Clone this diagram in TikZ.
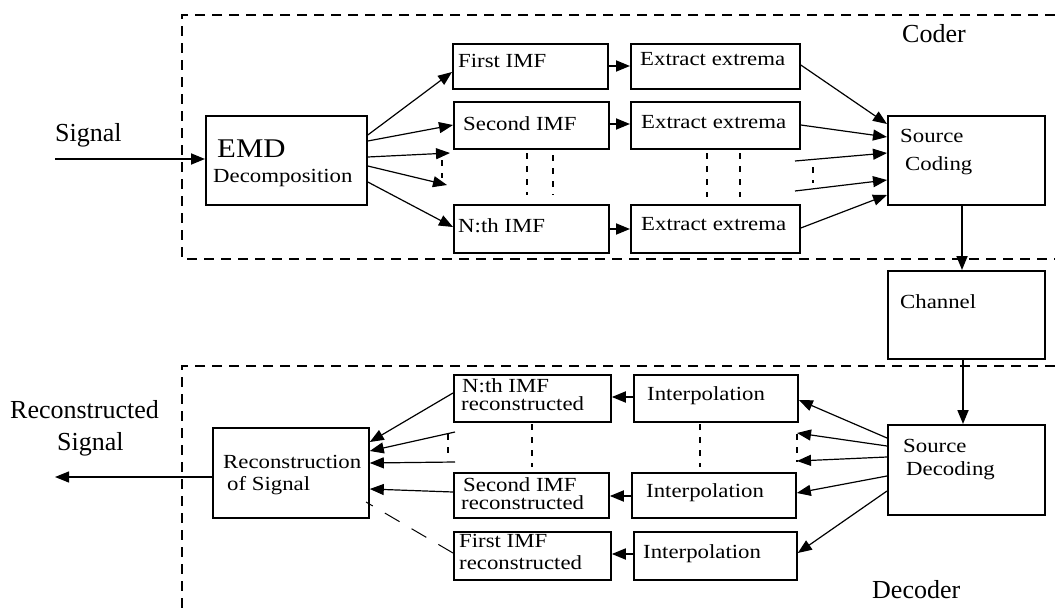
\documentclass[tikz,border=0pt]{standalone}
\usepackage{fontspec}
\setmainfont{Liberation Serif}
\newfontfamily\boxfont[FakeStretch=1.14]{Liberation Serif}
\usetikzlibrary{arrows.meta}

\begin{document}
\begin{tikzpicture}[x=1pt,y=-1pt,
  blk/.style={draw, line width=1.8pt, inner sep=0pt, anchor=north west},
  txt/.style={inner sep=0pt, anchor=base west, font=\boxfont\fontsize{20}{20}\selectfont},
  bigtxt/.style={inner sep=0pt, anchor=base west, font=\boxfont\fontsize{27}{27}\selectfont},
  lbl/.style={inner sep=0pt, anchor=base west, font=\fontsize{26}{26}\selectfont},
  arr/.style={line width=1.2pt, -{Triangle[length=14pt,width=11pt]}},
  harr/.style={line width=1.8pt, -{Triangle[length=14pt,width=11pt]}},
  frame/.style={line width=1.8pt, dash pattern=on 10pt off 7pt},
  gap/.style={line width=1.5pt, dash pattern=on 6pt off 7pt},
  loose/.style={line width=1pt, dash pattern=on 17pt off 14pt},
]
\useasboundingbox (0,0) rectangle (1055,613);

% ---------------- coder ----------------
\draw[frame] (1055,15) -- (182,15) -- (182,259) -- (1055,259);
\node[lbl] (coder) at (902,42) {Coder};

\node[blk, minimum width=161pt, minimum height=89pt] (emd) at (205,115) {};
\node[bigtxt] (emdA) at (217,157) {EMD};
\node[txt] (emdB) at (213,182) {Decomposition};

\node[blk, minimum width=155pt, minimum height=45pt] (imf1) at (452,43) {};
\node[blk, minimum width=155pt, minimum height=47pt] (imf2) at (453,101) {};
\node[blk, minimum width=155pt, minimum height=48pt] (imfn) at (453,204) {};
\node[txt] (imf1t) at (458,67) {First IMF};
\node[txt] (imf2t) at (463,130) {Second IMF};
\node[txt] (imfnt) at (458,232) {N:th IMF};

\node[blk, minimum width=169pt, minimum height=45pt] (ext1) at (630,43) {};
\node[blk, minimum width=169pt, minimum height=47pt] (ext2) at (630,101) {};
\node[blk, minimum width=169pt, minimum height=48pt] (extn) at (630,204) {};
\node[txt] (ext1t) at (640,65) {Extract extrema};
\node[txt] (ext2t) at (641,128) {Extract extrema};
\node[txt] (extnt) at (641,230) {Extract extrema};

\node[blk, minimum width=157pt, minimum height=89pt] (scod) at (887,115) {};
\node[txt] (scodA) at (900,142) {Source};
\node[txt] (scodB) at (905,170) {Coding};

% input signal
\node[lbl] (sigl) at (55,141) {Signal};
\coordinate (sigin) at (55,159);
\draw[harr] (sigin) -- (emd.west |- 0,159);

% EMD outputs
\coordinate (e3) at (450,153);
\coordinate (e4) at (447,185);
\draw[arr] (emd.east |- 0,135) -- (imf1.west |- 0,72);
\draw[arr] (emd.east |- 0,141) -- (imf2.west |- 0,125);
\draw[arr] (emd.east |- 0,157) -- (e3);
\draw[arr] (emd.east |- 0,166) -- (e4);
\draw[arr] (emd.east |- 0,182) -- (imfn.west |- 0,227);
\draw[gap] (442,160) -- (442,178);

% IMF -> extrema
\draw[harr] (imf1.east |- 0,66) -- (ext1.west |- 0,66);
\draw[harr] (imf2.east |- 0,124) -- (ext2.west |- 0,124);
\draw[harr] (imfn.east |- 0,229) -- (extn.west |- 0,229);

% extrema -> source coding
\coordinate (s3) at (795,161);
\coordinate (s4) at (795,191);
\draw[arr] (ext1.east |- 0,65) -- (scod.west |- 0,124);
\draw[arr] (ext2.east |- 0,125) -- (scod.west |- 0,137);
\draw[arr] (s3) -- (scod.west |- 0,153);
\draw[arr] (s4) -- (scod.west |- 0,180);
\draw[arr] (extn.east |- 0,228) -- (scod.west |- 0,195);

% ellipsis marks between rows
\draw[gap] (527,153) -- (527,195);
\draw[gap] (553,155) -- (553,195);
\draw[gap] (707,153) -- (707,197);
\draw[gap] (740,153) -- (740,197);
\draw[gap] (813,167) -- (813,183);

% ---------------- channel ----------------
\node[blk, minimum width=157pt, minimum height=88pt] (chan) at (887,270) {};
\node[txt] (chant) at (900,308) {Channel};
\draw[harr] (scod.south -| 962,0) -- (chan.north -| 962,0);

% ---------------- decoder ----------------
\draw[frame] (1055,366) -- (182,366) -- (182,613);
\node[lbl] (decoder) at (872,598) {Decoder};

\node[blk, minimum width=157pt, minimum height=90pt] (sdec) at (887,424) {};
\node[txt] (sdecA) at (903,452) {Source};
\node[txt] (sdecB) at (906,475) {Decoding};
\draw[harr] (chan.south -| 963,0) -- (sdec.north -| 963,0);

\node[blk, minimum width=164pt, minimum height=47pt] (intn) at (633,374) {};
\node[blk, minimum width=164pt, minimum height=45pt] (int2) at (631,472) {};
\node[blk, minimum width=163pt, minimum height=48pt] (int1) at (633,531) {};
\node[txt] (intnt) at (647,400) {Interpolation};
\node[txt] (int2t) at (646,497) {Interpolation};
\node[txt] (int1t) at (643,558) {Interpolation};

\node[blk, minimum width=157pt, minimum height=47pt] (recn) at (453,374) {};
\node[blk, minimum width=155pt, minimum height=45pt] (rec2) at (453,472) {};
\node[blk, minimum width=157pt, minimum height=48pt] (rec1) at (453,531) {};
\node[txt] (recnA) at (462,392) {N:th IMF};
\node[txt] (recnB) at (461,410) {reconstructed};
\node[txt] (rec2A) at (463,491) {Second IMF};
\node[txt] (rec2B) at (461,509) {reconstructed};
\node[txt] (rec1A) at (459,547) {First IMF};
\node[txt] (rec1B) at (459,569) {reconstructed};

\node[blk, minimum width=156pt, minimum height=90pt] (recsig) at (212,427) {};
\node[txt] (recsigA) at (223,468) {Reconstruction};
\node[txt] (recsigB) at (227,490) {of Signal};

% source decoding -> interpolation
\coordinate (d2) at (797,433);
\coordinate (d3) at (797,461);
\draw[arr] (sdec.west |- 0,438) -- (intn.east |- 0,400);
\draw[arr] (sdec.west |- 0,446) -- (d2);
\draw[arr] (sdec.west |- 0,457) -- (d3);
\draw[arr] (sdec.west |- 0,476) -- (int2.east |- 0,493);
\draw[arr] (sdec.west |- 0,491) -- (int1.east |- 0,553);
\draw[gap] (797,434) -- (797,462);

% interpolation -> reconstructed IMFs
\draw[harr] (intn.west |- 0,397) -- (recn.east |- 0,397);
\draw[harr] (int2.west |- 0,496) -- (rec2.east |- 0,496);
\draw[harr] (int1.west |- 0,554) -- (rec1.east |- 0,554);

% reconstructed IMFs -> reconstruction
\coordinate (r2) at (455,432);
\coordinate (r3) at (455,462);
\draw[arr] (recn.west |- 0,393) -- (recsig.east |- 0,442);
\draw[arr] (r2) -- (recsig.east |- 0,451);
\draw[arr] (r3) -- (recsig.east |- 0,463);
\draw[arr] (rec2.west |- 0,492) -- (recsig.east |- 0,489);
\draw[loose] (rec1.west |- 0,553) -- (366,502);
\draw[gap] (448,434) -- (448,460);

% ellipsis marks between rows
\draw[gap] (532,424) -- (532,467);
\draw[gap] (700,424) -- (700,467);

% output signal
\node[lbl] (outA) at (10,418) {Reconstructed};
\node[lbl] (outB) at (57,450) {Signal};
\coordinate (out) at (55,477);
\draw[arr] (recsig.west |- 0,477) -- (out);
\end{tikzpicture}
\end{document}
